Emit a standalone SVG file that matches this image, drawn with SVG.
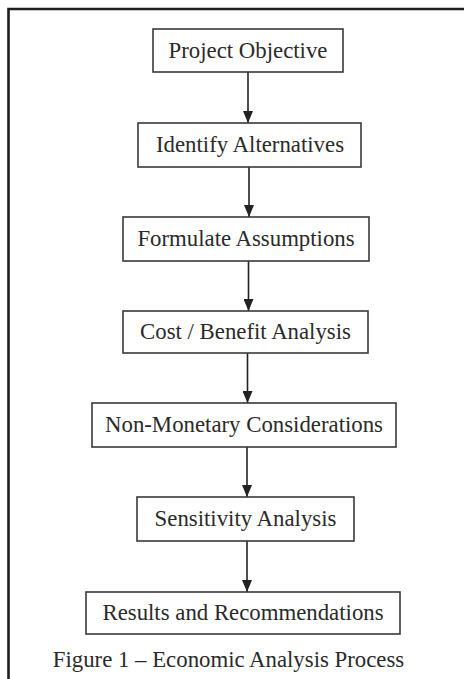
<svg xmlns="http://www.w3.org/2000/svg" width="464" height="679" viewBox="0 0 464 679">
  <defs>
    <marker id="arr" viewBox="0 0 12 10" refX="12" refY="5" markerWidth="12" markerHeight="10" markerUnits="userSpaceOnUse" orient="auto">
      <path d="M0,0 L12,5 L0,10 Z" fill="#222"/>
    </marker>
    <style>
      .box { fill: #fff; stroke: #3a3a3a; stroke-width: 1.6; }
      .lbl { font-family: "Liberation Serif", "Times New Roman", serif; font-size: 22.8px; fill: #2a2a2a; text-anchor: middle; }
      .conn { stroke: #222; stroke-width: 1.6; fill: none; }
      .frame { stroke: #1e1e1e; stroke-width: 2.6; fill: none; }
    </style>
  </defs>
  <rect width="464" height="679" fill="#fff"/>
  <path class="frame" d="M8.5,679 L8.5,9 L464,9"/>

  <g id="connectors">
    <line class="conn" x1="248" y1="72" x2="248" y2="123" marker-end="url(#arr)"/>
    <line class="conn" x1="249" y1="167" x2="249" y2="217" marker-end="url(#arr)"/>
    <line class="conn" x1="248.5" y1="261" x2="248.5" y2="311" marker-end="url(#arr)"/>
    <line class="conn" x1="247.5" y1="353" x2="247.5" y2="403" marker-end="url(#arr)"/>
    <line class="conn" x1="247" y1="447" x2="247" y2="497" marker-end="url(#arr)"/>
    <line class="conn" x1="247" y1="541" x2="247" y2="592" marker-end="url(#arr)"/>
  </g>

  <g id="n1">
    <rect class="box" x="153" y="29" width="190" height="43"/>
    <text class="lbl" x="248" y="58">Project Objective</text>
  </g>
  <g id="n2">
    <rect class="box" x="138" y="123" width="223" height="44"/>
    <text class="lbl" x="250" y="152">Identify Alternatives</text>
  </g>
  <g id="n3">
    <rect class="box" x="123" y="217" width="246" height="44"/>
    <text class="lbl" x="246" y="246">Formulate Assumptions</text>
  </g>
  <g id="n4">
    <rect class="box" x="123" y="311" width="245" height="42"/>
    <text class="lbl" x="245.5" y="339">Cost / Benefit Analysis</text>
  </g>
  <g id="n5">
    <rect class="box" x="92" y="403" width="304" height="44"/>
    <text class="lbl" x="244" y="432">Non-Monetary Considerations</text>
  </g>
  <g id="n6">
    <rect class="box" x="137" y="497" width="217" height="44"/>
    <text class="lbl" x="245.5" y="526">Sensitivity Analysis</text>
  </g>
  <g id="n7">
    <rect class="box" x="86" y="592" width="314" height="42"/>
    <text class="lbl" x="243" y="620">Results and Recommendations</text>
  </g>
  <text id="caption" class="lbl" x="228.5" y="667">Figure 1 – Economic Analysis Process</text>
</svg>
